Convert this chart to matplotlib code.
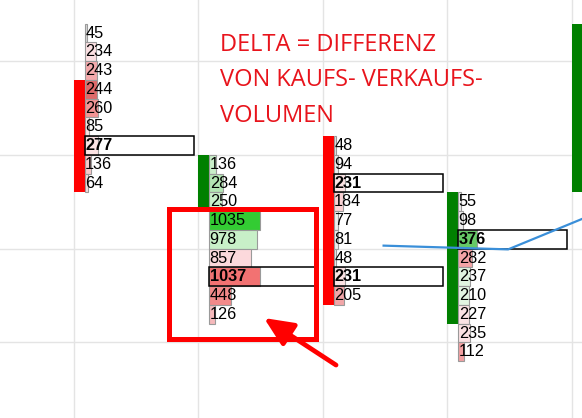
import matplotlib
matplotlib.use("Agg")
import matplotlib.pyplot as plt
from matplotlib.patches import Rectangle, FancyArrowPatch

# ---------------- data ----------------
bar_index = [0, 1, 2, 3, 4]
candle_open = [97.5, 90.5, 94.5, 84.5, 91.5]
candle_close = [91.5, 93.5, 85.5, 91.5, 100.5]

# footprint profiles: top price level and volumes per price row (top -> bottom)
profile_top = [100, 93, 94, 91]
vol_c1 = [45, 234, 243, 244, 260, 85, 277, 136, 64]
vol_c2 = [136, 284, 250, 1035, 978, 857, 1037, 448, 126]
vol_c3 = [48, 94, 231, 184, 77, 81, 48, 231, 205]
vol_c4 = [55, 98, 376, 282, 237, 210, 227, 235, 112]
poc_rows = [[6], [6], [2, 7], [2]]

# blue line (x in bar units, price)
line_x = [2.49, 3.49, 4.09]
line_y = [88.66, 88.46, 90.1]

title_lines = ["DELTA = DIFFERENZ", "VON KAUFS- VERKAUFS-", "VOLUMEN"]

# ---------------- styles ----------------
col_c1 = ["#d8d8d8", "#fbe0e2", "#f4a9ab", "#de6a6a", "#f29494", "#fbe3e4", "#fbe3e4", "#f8c8ca", "#f3dede"]
col_c2 = ["#c9efc9", "#b3e6b3", "#c9efc9", "#33cc33", "#c8f0c8", "#fcd9dc", "#f27272", "#f28a8a", "#f6b9bb"]
col_c3 = ["#e6e6e6", "#eeeeee", "#fbe3e4", "#fbd3d5", "#eeeeee", "#eeeeee", "#eeeeee", "#fbe3e4", "#f2a6a8"]
col_c4 = ["#eeeeee", "#eeeeee", "#66c966", "#f4a4a6", "#e0f5e0", "#e2f6e2", "#fbe3e4", "#fbe0e2", "#f2a0a2"]
profiles = [vol_c1, vol_c2, vol_c3, vol_c4]
colors = [col_c1, col_c2, col_c3, col_c4]

RED = "#ff0000"
GREEN = "#008000"
candle_w = 0.09
vol_scale = 0.000394
box_w = 0.875

fig = plt.figure(figsize=(5.82, 4.18), dpi=100)
ax = fig.add_axes([0, 0, 1, 1])
ax.set_xlim(-0.5912, 4.0835)
ax.set_ylim(79.467, 101.76)
ax.axis("off")

# grid
for gx in bar_index:
    ax.axvline(gx, color="#e4e4e4", lw=1, zorder=0)
for gy in [98.5, 93.5, 88.5, 83.5]:
    ax.axhline(gy, color="#e4e4e4", lw=1, zorder=0)

# candles
for i, o, c in zip(bar_index, candle_open, candle_close):
    col = GREEN if c > o else RED
    w = candle_w if i < 4 else 0.2
    ax.bar(i, c - o, bottom=o, width=w, align="edge", color=col, lw=0, zorder=2)

# profiles
for k, (vols, cols) in enumerate(zip(profiles, colors)):
    x0 = bar_index[k] + candle_w
    for r, (v, cc) in enumerate(zip(vols, cols)):
        p = profile_top[k] - r
        ax.barh(p, v * vol_scale, height=1.0, left=x0, color=cc,
                edgecolor="#9a9a9a", lw=0.8, zorder=3)
        bold = r in poc_rows[k]
        if bold:
            ax.add_patch(Rectangle((x0, p - 0.5), box_w, 1.0, fill=False,
                                   ec="black", lw=1.1, zorder=4))
        ax.text(x0 + 0.003, p, str(v), ha="left", va="center",
                fontsize=11.7, family="Liberation Sans",
                fontweight="bold" if bold else "normal", color="black", zorder=5)

# blue line
ax.plot(line_x, line_y, color="#3a8fd9", lw=1.6, zorder=6, clip_on=True)

# red highlight box and arrow
ax.add_patch(Rectangle((0.766, 83.68), 1.181, 6.93, fill=False, ec="#ff0000",
                       lw=3.6, zorder=7))
ax.add_patch(FancyArrowPatch((2.108, 82.29), (1.529, 84.8),
                             arrowstyle="-|>,head_length=8,head_width=3.6",
                             mutation_scale=2.2, color="#ff0000", lw=3.4,
                             shrinkA=0, shrinkB=0, zorder=7))

# title text
for j, t in enumerate(title_lines):
    fig.text(220 / 582, 1 - (45 + 35.5 * j) / 418, t, ha="left", va="center",
             fontsize=17, family="Open Sans", color="#e8141c")

fig.savefig("out.png", dpi=100)
